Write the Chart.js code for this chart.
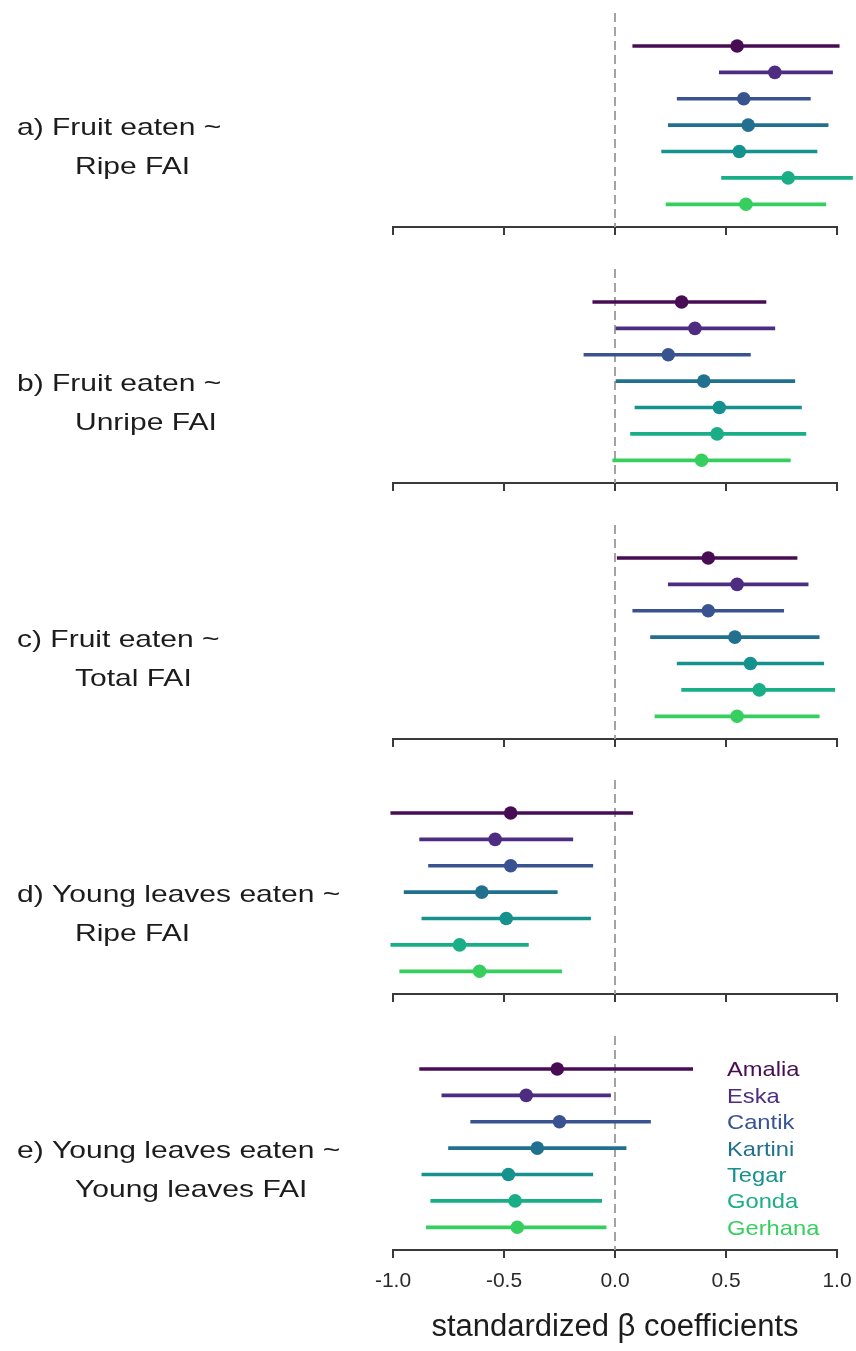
<!DOCTYPE html>
<html>
<head>
<meta charset="utf-8">
<script src="https://cdn.jsdelivr.net/npm/chart.js@4.4.0/dist/chart.umd.min.js"></script>
<style>
  html, body { margin: 0; padding: 0; background: #fff; }
  body { position: relative; width: 856px; height: 1351px; overflow: hidden; }
  canvas { position: absolute; left: 0; }
</style>
</head>
<body>
<script>
// individuals (rows, top to bottom) and their colours
const animals = ['Amalia', 'Eska', 'Cantik', 'Kartini', 'Tegar', 'Gonda', 'Gerhana'];
const colors = ['#480c55', '#4d2d82', '#385390', '#22708f', '#15918e', '#19ae86', '#36cf5f'];
const xTicks = [-1, -0.5, 0, 0.5, 1];

// a) fruit eaten ~ ripe FAI
const fruitRipeEst = [0.55, 0.72, 0.58, 0.60, 0.56, 0.78, 0.59];
const fruitRipeLo  = [0.08, 0.47, 0.28, 0.24, 0.21, 0.48, 0.23];
const fruitRipeHi  = [1.01, 0.98, 0.88, 0.96, 0.91, 1.07, 0.95];
// b) fruit eaten ~ unripe FAI
const fruitUnripeEst = [0.30, 0.36, 0.24, 0.40, 0.47, 0.46, 0.39];
const fruitUnripeLo  = [-0.10, 0.00, -0.14, 0.00, 0.09, 0.07, -0.01];
const fruitUnripeHi  = [0.68, 0.72, 0.61, 0.81, 0.84, 0.86, 0.79];
// c) fruit eaten ~ total FAI
const fruitTotalEst = [0.42, 0.55, 0.42, 0.54, 0.61, 0.65, 0.55];
const fruitTotalLo  = [0.01, 0.24, 0.08, 0.16, 0.28, 0.30, 0.18];
const fruitTotalHi  = [0.82, 0.87, 0.76, 0.92, 0.94, 0.99, 0.92];
// d) young leaves eaten ~ ripe FAI
const leavesRipeEst = [-0.47, -0.54, -0.47, -0.60, -0.49, -0.70, -0.61];
const leavesRipeLo  = [-1.01, -0.88, -0.84, -0.95, -0.87, -1.01, -0.97];
const leavesRipeHi  = [0.08, -0.19, -0.10, -0.26, -0.11, -0.39, -0.24];
// e) young leaves eaten ~ young leaves FAI
const leavesYoungEst = [-0.26, -0.40, -0.25, -0.35, -0.48, -0.45, -0.44];
const leavesYoungLo  = [-0.88, -0.78, -0.65, -0.75, -0.87, -0.83, -0.85];
const leavesYoungHi  = [0.35, -0.02, 0.16, 0.05, -0.10, -0.06, -0.04];

const panels = [
  { label: ['a) Fruit eaten ~', 'Ripe FAI'], est: fruitRipeEst, lo: fruitRipeLo, hi: fruitRipeHi },
  { label: ['b) Fruit eaten ~', 'Unripe FAI'], est: fruitUnripeEst, lo: fruitUnripeLo, hi: fruitUnripeHi },
  { label: ['c) Fruit eaten ~', 'Total FAI'], est: fruitTotalEst, lo: fruitTotalLo, hi: fruitTotalHi },
  { label: ['d) Young leaves eaten ~', 'Ripe FAI'], est: leavesRipeEst, lo: leavesRipeLo, hi: leavesRipeHi },
  { label: ['e) Young leaves eaten ~', 'Young leaves FAI'], est: leavesYoungEst, lo: leavesYoungLo, hi: leavesYoungHi }
];

const FONT = '"Liberation Sans", Arial, Helvetica, sans-serif';
const Y_MIN = -0.25, Y_MAX = 7.86;   // rows sit at 1..7
const PLOT_H = 214, PAD_TOP = 10;

// panel label on the left + legend on the last panel
const panelText = {
  id: 'panelText',
  afterDatasetsDraw(chart, args, opts) {
    const ctx = chart.ctx;
    const top = chart.chartArea.top;
    ctx.save();
    ctx.fillStyle = '#1c1c1c';
    ctx.font = '24px ' + FONT;
    ctx.textBaseline = 'alphabetic';
    [[17, top + 122], [75, top + 160.5]].forEach(([x, y], k) => {
      ctx.save();
      ctx.translate(x, y);
      ctx.scale(1.25, 1);
      ctx.fillText(opts.label[k], 0, 0);
      ctx.restore();
    });
    if (opts.legend) {
      ctx.font = '21px ' + FONT;
      const ys = chart.scales.y;
      animals.forEach((name, i) => {
        ctx.save();
        ctx.fillStyle = colors[i];
        ctx.translate(727, ys.getPixelForValue(i + 1) + 7.5);
        ctx.scale(1.13, 1);
        ctx.fillText(name, 0, 0);
        ctx.restore();
      });
    }
    ctx.restore();
  }
};

panels.forEach((p, idx) => {
  const last = idx === panels.length - 1;
  const plotTop = Math.round(13 + 255.8 * idx);
  const cvTop = plotTop - PAD_TOP;
  const h = last ? 1351 - cvTop : PAD_TOP + PLOT_H + 24;
  const axisH = last ? h - PAD_TOP - PLOT_H - 2 : 24;

  const cv = document.createElement('canvas');
  cv.width = 856;
  cv.height = h;
  cv.style.top = cvTop + 'px';
  document.body.appendChild(cv);

  new Chart(cv.getContext('2d'), {
    type: 'bar',
    data: {
      datasets: [
        {
          type: 'scatter',
          data: p.est.map((v, i) => ({ x: v, y: i + 1 })),
          pointBackgroundColor: colors,
          pointBorderWidth: 0,
          pointRadius: 6.8,
          pointHoverRadius: 6.8,
          clip: false,
          order: 0
        },
        {
          data: p.lo.map((v, i) => ({ y: i + 1, x: [v, p.hi[i]] })),
          backgroundColor: colors,
          borderWidth: 0,
          barThickness: 3,
          clip: false,
          order: 1
        },
        {
          type: 'line',
          data: [{ x: 0, y: Y_MIN }, { x: 0, y: Y_MAX }],
          borderColor: '#a3a3a3',
          borderWidth: 2,
          borderDash: [9, 5],
          pointRadius: 0,
          order: 2
        }
      ]
    },
    options: {
      indexAxis: 'y',
      responsive: false,
      animation: false,
      events: [],
      layout: { padding: { top: PAD_TOP, left: 393, right: 19, bottom: last ? 2 : 0 } },
      plugins: {
        legend: { display: false },
        tooltip: { enabled: false },
        panelText: { label: p.label, legend: last }
      },
      scales: {
        x: {
          type: 'linear',
          min: -1,
          max: 1,
          afterBuildTicks: s => { s.ticks = xTicks.map(v => ({ value: v })); },
          afterFit: s => { s.height = axisH; },
          grid: { drawOnChartArea: false, drawTicks: true, tickLength: 8, color: '#3a3a3a', lineWidth: 2 },
          border: { display: true, color: '#3a3a3a', width: 2 },
          ticks: {
            display: last,
            padding: 4,
            color: '#2a2a2a',
            font: { family: FONT, size: 21, lineHeight: 1.8 },
            callback: v => Number(v).toFixed(1)
          },
          title: {
            display: last,
            text: 'standardized β coefficients',
            color: '#1c1c1c',
            font: { family: FONT, size: 31 },
            padding: { top: 0, bottom: 3 }
          }
        },
        y: {
          type: 'linear',
          min: Y_MIN,
          max: Y_MAX,
          reverse: true,
          offset: false,
          display: false
        }
      }
    },
    plugins: [panelText]
  });
});
</script>
</body>
</html>
